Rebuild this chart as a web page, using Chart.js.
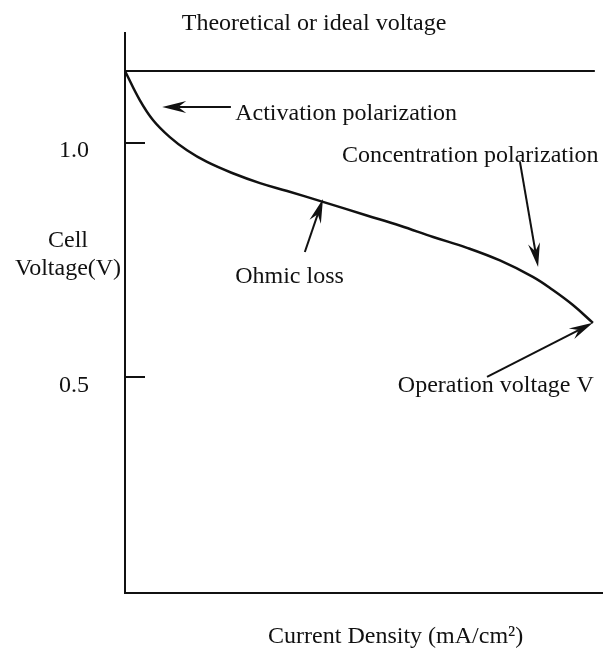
<!DOCTYPE html>
<html>
<head>
<meta charset="utf-8">
<script src="https://cdn.jsdelivr.net/npm/chart.js@4/dist/chart.umd.min.js"></script>
<style>
  html, body { margin: 0; padding: 0; background: #fff; }
  canvas { display: block; }
</style>
</head>
<body>
<canvas id="polCurve" width="614" height="649"></canvas>
<script>
// values (x in arbitrary current-density units, 0..100)
const currentDensity = [0, 3.1, 5.9, 9.4, 13.0, 17.2, 22.6, 28.3, 34.0, 41.5, 50.7, 57.7, 64.6, 71.7, 78.6, 85.5, 89.7, 93.9, 98.1];
const cellVoltage = [1.153, 1.091, 1.048, 1.012, 0.984, 0.959, 0.935, 0.914, 0.897, 0.874, 0.845, 0.823, 0.799, 0.776, 0.749, 0.714, 0.686, 0.654, 0.616];
const idealVoltage = 1.153;
const idealSpan = [0, 98.5];
const yTickValues = [0.5, 1.0];

const ink = "#111";
const serif = '"Liberation Serif", "Times New Roman", serif';

// text labels, anchored in data units
const labels = [
  { text: "Theoretical or ideal voltage", x: 11.9, y: 1.240 },
  { text: "Activation polarization", x: 23.1, y: 1.049 },
  { text: "Concentration polarization", x: 45.5, y: 0.959 },
  { text: "Ohmic loss", x: 23.1, y: 0.701 },
  { text: "Operation voltage V", x: 57.2, y: 0.469 },
  { text: "Cell", x: -11.95, y: 0.778, align: "center" },
  { text: "Voltage(V)", x: -11.95, y: 0.718, align: "center" },
  { text: "Current Density (mA/cm\u00b2)", x: 30.0, y: -0.066 }
];

// arrows: [from] -> [to], data units
const arrows = [
  { from: [22.2, 1.076], to: [7.8, 1.076] },
  { from: [37.7, 0.767], to: [41.5, 0.880] },
  { from: [82.8, 0.959], to: [86.6, 0.735] },
  { from: [75.9, 0.501], to: [98.1, 0.616] }
];

function drawArrow(ctx, x0, y0, x1, y1) {
  const ang = Math.atan2(y1 - y0, x1 - x0);
  const len = 24, half = 6, notch = 16;
  const cos = Math.cos(ang), sin = Math.sin(ang);
  ctx.beginPath();
  ctx.moveTo(x0, y0);
  ctx.lineTo(x1 - cos * notch, y1 - sin * notch);
  ctx.stroke();
  ctx.beginPath();
  ctx.moveTo(x1, y1);
  ctx.lineTo(x1 - cos * len - sin * half, y1 - sin * len + cos * half);
  ctx.lineTo(x1 - cos * notch, y1 - sin * notch);
  ctx.lineTo(x1 - cos * len + sin * half, y1 - sin * len - cos * half);
  ctx.closePath();
  ctx.fill();
}

const annotate = {
  id: "annotate",
  afterDatasetsDraw(chart) {
    const { ctx, scales: { x, y } } = chart;
    ctx.save();
    ctx.strokeStyle = ink;
    ctx.fillStyle = ink;

    // tick marks point inward
    ctx.lineWidth = 2;
    y.ticks.forEach(t => {
      const py = Math.round(y.getPixelForValue(t.value));
      ctx.beginPath();
      ctx.moveTo(x.left, py);
      ctx.lineTo(x.left + 20, py);
      ctx.stroke();
    });

    ctx.font = "24px " + serif;
    ctx.textBaseline = "alphabetic";
    labels.forEach(l => {
      ctx.textAlign = l.align || "left";
      ctx.fillText(l.text, x.getPixelForValue(l.x), y.getPixelForValue(l.y));
    });

    ctx.lineWidth = 2;
    arrows.forEach(a => {
      drawArrow(ctx,
        x.getPixelForValue(a.from[0]), y.getPixelForValue(a.from[1]),
        x.getPixelForValue(a.to[0]), y.getPixelForValue(a.to[1]));
    });
    ctx.restore();
  }
};

const curve = currentDensity.map((v, i) => ({ x: v, y: cellVoltage[i] }));
const ideal = idealSpan.map(v => ({ x: v, y: idealVoltage }));

new Chart(document.getElementById("polCurve").getContext("2d"), {
  type: "line",
  data: {
    datasets: [
      {
        label: "Cell voltage",
        data: curve,
        borderColor: ink,
        borderWidth: 2.5,
        pointRadius: 0,
        tension: 0.4,
        fill: false
      },
      {
        label: "Ideal voltage",
        data: ideal,
        borderColor: ink,
        borderWidth: 2,
        pointRadius: 0,
        fill: false
      }
    ]
  },
  options: {
    responsive: false,
    animation: false,
    layout: { padding: { top: 33, right: 12, bottom: 0, left: 0 } },
    plugins: {
      legend: { display: false },
      tooltip: { enabled: false }
    },
    scales: {
      x: {
        type: "linear",
        min: 0,
        max: 100,
        grid: { display: true, drawOnChartArea: false, drawTicks: false },
        border: { display: true, color: ink, width: 2 },
        ticks: { display: false },
        afterFit: s => { s.height = 56; s.paddingLeft = 0; s.paddingRight = 0; }
      },
      y: {
        type: "linear",
        min: 0.04,
        max: 1.234,
        grid: { display: true, drawOnChartArea: false, drawTicks: false },
        border: { display: true, color: ink, width: 2 },
        afterBuildTicks: s => { s.ticks = yTickValues.map(v => ({ value: v })); },
        ticks: {
          color: ink,
          padding: 36,
          labelOffset: 8,
          font: { family: serif, size: 24 },
          callback: v => v.toFixed(1)
        },
        afterFit: s => { s.width = 125; s.paddingTop = 0; s.paddingBottom = 0; }
      }
    }
  },
  plugins: [annotate]
});
</script>
</body>
</html>
